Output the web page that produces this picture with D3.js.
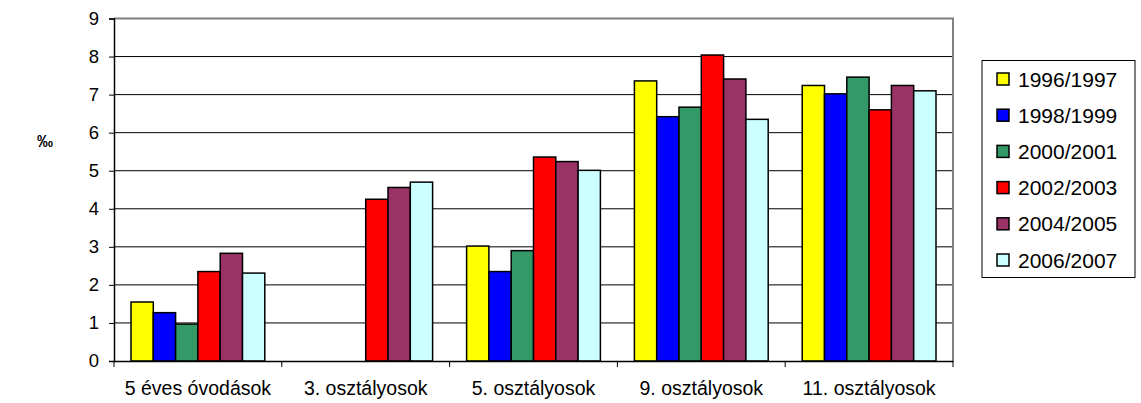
<!DOCTYPE html>
<html>
<head>
<meta charset="utf-8">
<script src="https://cdn.jsdelivr.net/npm/d3@7"></script>
<style>
  body { margin: 0; background: #fff; }
  text { font-family: "Liberation Sans", Arial, sans-serif; fill: #000; }
</style>
</head>
<body>
<svg id="chart"></svg>
<script>
const categories = ["5 éves óvodások", "3. osztályosok", "5. osztályosok", "9. osztályosok", "11. osztályosok"];
const seriesNames = ["1996/1997", "1998/1999", "2000/2001", "2002/2003", "2004/2005", "2006/2007"];
const seriesColors = ["#FFFF00", "#0000FF", "#339966", "#FF0000", "#993366", "#CCFFFF"];
// one row per series, one value per category (null = no bar)
const values = [
    [1.55, null, 3.02, 7.36, 7.24],
    [1.27, null, 2.35, 6.42, 7.02],
    [0.97, null, 2.90, 6.67, 7.46],
    [2.35, 4.25, 5.36, 8.04, 6.60],
    [2.83, 4.56, 5.24, 7.41, 7.24],
    [2.31, 4.70, 5.01, 6.35, 7.10]
];
const yTicks = [0, 1, 2, 3, 4, 5, 6, 7, 8, 9];

const width = 1141, height = 403;
const plot = { left: 114, right: 953, top: 18.5, bottom: 361 };

const svg = d3.select("#chart").attr("width", width).attr("height", height);

const x0 = d3.scaleBand().domain(categories).range([plot.left, plot.right]).paddingInner(0).paddingOuter(0);
const x1 = d3.scaleBand().domain(seriesNames).range([17, x0.bandwidth() - 17]).padding(0);
const y = d3.scaleLinear().domain([0, 9]).range([plot.bottom, plot.top]);

// gridlines
svg.append("g")
    .selectAll("line")
    .data(yTicks.filter(d => d > 0 && d < 9))
    .join("line")
    .attr("x1", plot.left).attr("x2", plot.right)
    .attr("y1", d => y(d)).attr("y2", d => y(d))
    .attr("stroke", "#000").attr("stroke-width", 1);

// top and right frame (grey)
svg.append("path")
    .attr("d", `M${plot.left},${y(9)}H${plot.right}V${plot.bottom}`)
    .attr("fill", "none").attr("stroke", "#808080").attr("stroke-width", 2);

// bars
const groups = svg.append("g")
    .selectAll("g")
    .data(seriesNames)
    .join("g")
    .attr("fill", (d, i) => seriesColors[i]);

groups.selectAll("rect")
    .data((s, i) => categories.map((c, j) => ({ s, c, v: values[i][j] })).filter(d => d.v != null))
    .join("rect")
    .attr("x", d => x0(d.c) + x1(d.s))
    .attr("y", d => y(d.v))
    .attr("width", x1.bandwidth())
    .attr("height", d => y(0) - y(d.v))
    .attr("stroke", "#000")
    .attr("stroke-width", 1.5);

// y axis
const yAxis = svg.append("g")
    .attr("transform", `translate(${plot.left},0)`)
    .call(d3.axisLeft(y).tickValues(yTicks).tickSize(5).tickPadding(10).tickFormat(d3.format("d")));
yAxis.select(".domain").attr("stroke", "#000").attr("stroke-width", 1.5);
yAxis.selectAll(".tick line").attr("stroke", "#000");
yAxis.selectAll("text").style("font-size", "18.5px").attr("font-family", null);

// x axis
const xAxis = svg.append("g")
    .attr("transform", `translate(0,${plot.bottom})`)
    .call(d3.axisBottom(x0).tickSize(0).tickPadding(20));
xAxis.select(".domain").attr("stroke", "#000").attr("stroke-width", 1.5);
xAxis.selectAll("text").style("font-size", "19.5px").attr("font-family", null);
// category boundary ticks
svg.append("g")
    .selectAll("line")
    .data(d3.range(categories.length + 1))
    .join("line")
    .attr("x1", i => plot.left + i * x0.step()).attr("x2", i => plot.left + i * x0.step())
    .attr("y1", plot.bottom).attr("y2", plot.bottom + 6)
    .attr("stroke", "#000").attr("stroke-width", 1);

// unit label
svg.append("text")
    .attr("x", 45).attr("y", 147)
    .attr("text-anchor", "middle")
    .style("font-size", "16px")
    .style("font-weight", "bold")
    .text("‰");

// legend
const legend = svg.append("g");
legend.append("rect")
    .attr("x", 982).attr("y", 60.5)
    .attr("width", 153).attr("height", 217)
    .attr("fill", "#fff").attr("stroke", "#000").attr("stroke-width", 1);

const item = legend.selectAll("g.item")
    .data(seriesNames)
    .join("g")
    .attr("class", "item")
    .attr("transform", (d, i) => `translate(997,${79 + i * 36.2})`);
item.append("rect")
    .attr("x", 0).attr("y", -6)
    .attr("width", 12).attr("height", 12)
    .attr("fill", (d, i) => seriesColors[i])
    .attr("stroke", "#000").attr("stroke-width", 1.5);
item.append("text")
    .attr("x", 21).attr("dy", "0.36em")
    .style("font-size", "21px")
    .text(d => d);
</script>
</body>
</html>
